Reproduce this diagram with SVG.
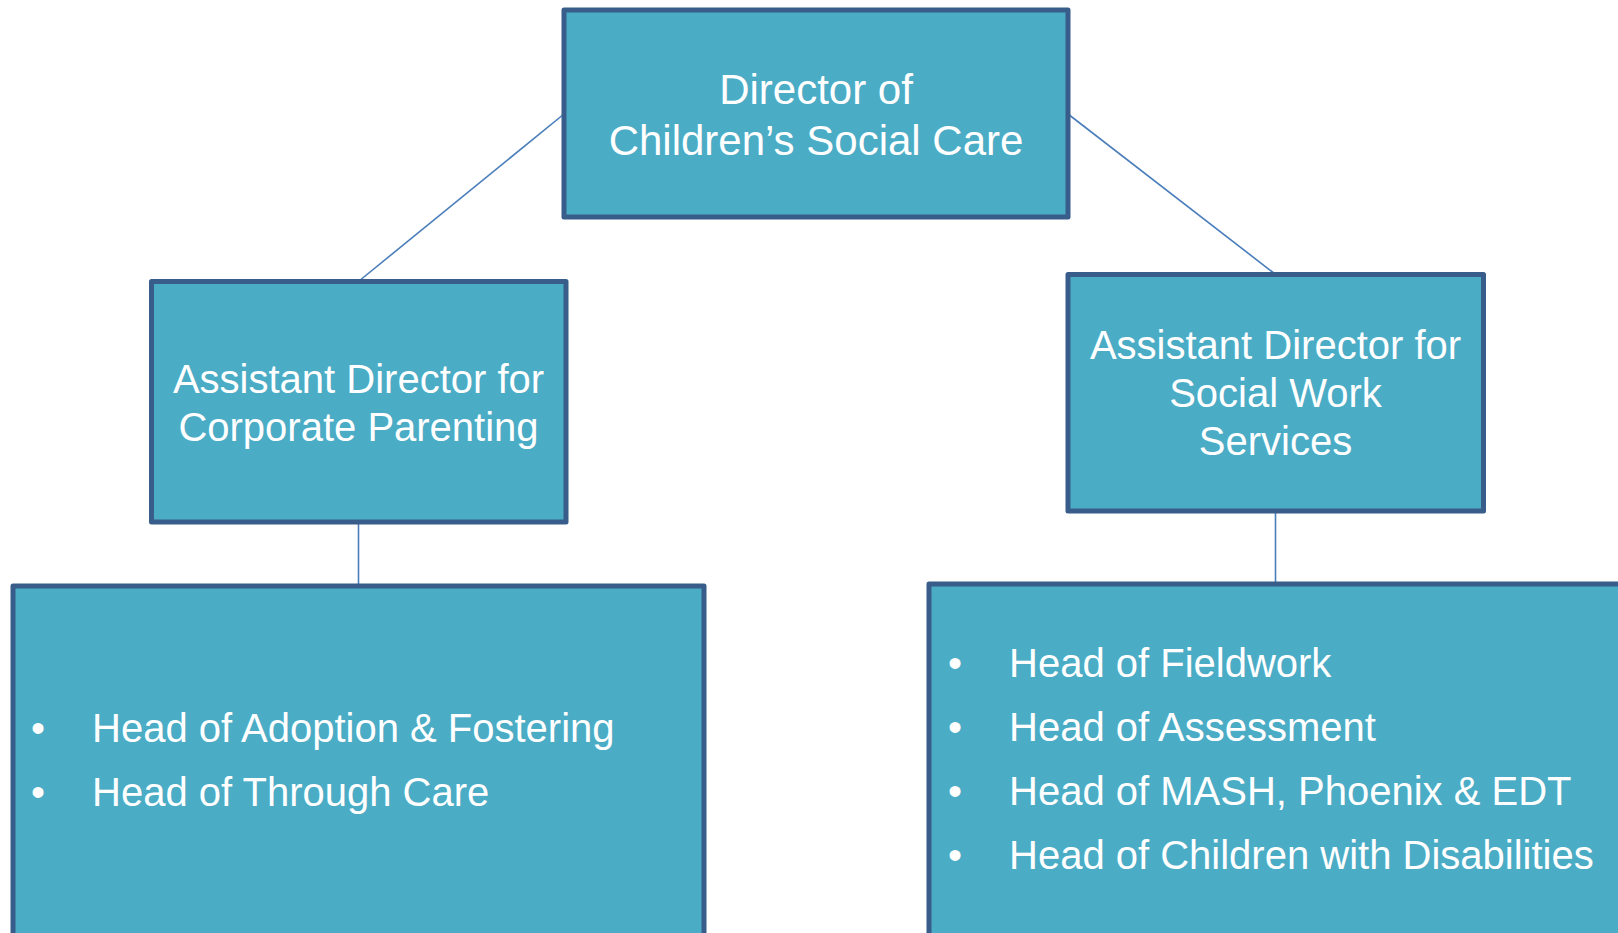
<svg xmlns="http://www.w3.org/2000/svg" width="1618" height="933" viewBox="0 0 1618 933">
<style>
.box{fill:#4BACC6;stroke:#385D8A;stroke-width:5;stroke-linejoin:round}
.conn{stroke:#4A7EBB;stroke-width:1.6;fill:none}
.t{font-family:"Liberation Sans",Arial,sans-serif;fill:#FFFFFF}
.c{text-anchor:middle}
.big{font-size:42px}
.mid{font-size:40px}
</style>
<rect width="1618" height="933" fill="#FFFFFF"/>
<g id="connectors">
<line class="conn" x1="564" y1="114" x2="359" y2="281"/>
<line class="conn" x1="1068" y1="114" x2="1275" y2="274"/>
<line class="conn" x1="358.5" y1="522" x2="358.5" y2="586"/>
<line class="conn" x1="1275.5" y1="511" x2="1275.5" y2="584"/>
</g>
<g id="director">
<rect class="box" x="564" y="10" width="504" height="207"/>
<text class="t c big" x="816" y="104">Director of</text>
<text class="t c big" x="816" y="155">Children’s Social Care</text>
</g>
<g id="ad-corporate">
<rect class="box" x="151.5" y="281.5" width="414.5" height="240.5"/>
<text class="t c mid" x="358.5" y="393">Assistant Director for</text>
<text class="t c mid" x="358.5" y="441">Corporate Parenting</text>
</g>
<g id="ad-social">
<rect class="box" x="1068" y="274.5" width="415.5" height="236.5"/>
<text class="t c mid" x="1275.5" y="359">Assistant Director for</text>
<text class="t c mid" x="1275.5" y="407">Social Work</text>
<text class="t c mid" x="1275.5" y="455">Services</text>
</g>
<g id="heads-corporate">
<rect class="box" x="13" y="586" width="691" height="360"/>
<text class="t c mid" x="38" y="742">•</text>
<text class="t mid" x="92" y="742">Head of Adoption &amp; Fostering</text>
<text class="t c mid" x="38" y="806">•</text>
<text class="t mid" x="92" y="806">Head of Through Care</text>
</g>
<g id="heads-social">
<rect class="box" x="929" y="584" width="720" height="360"/>
<text class="t c mid" x="955" y="677">•</text>
<text class="t mid" x="1009" y="677">Head of Fieldwork</text>
<text class="t c mid" x="955" y="741">•</text>
<text class="t mid" x="1009" y="741">Head of Assessment</text>
<text class="t c mid" x="955" y="805">•</text>
<text class="t mid" x="1009" y="805">Head of MASH, Phoenix &amp; EDT</text>
<text class="t c mid" x="955" y="869">•</text>
<text class="t mid" x="1009" y="869">Head of Children with Disabilities</text>
</g>
</svg>
